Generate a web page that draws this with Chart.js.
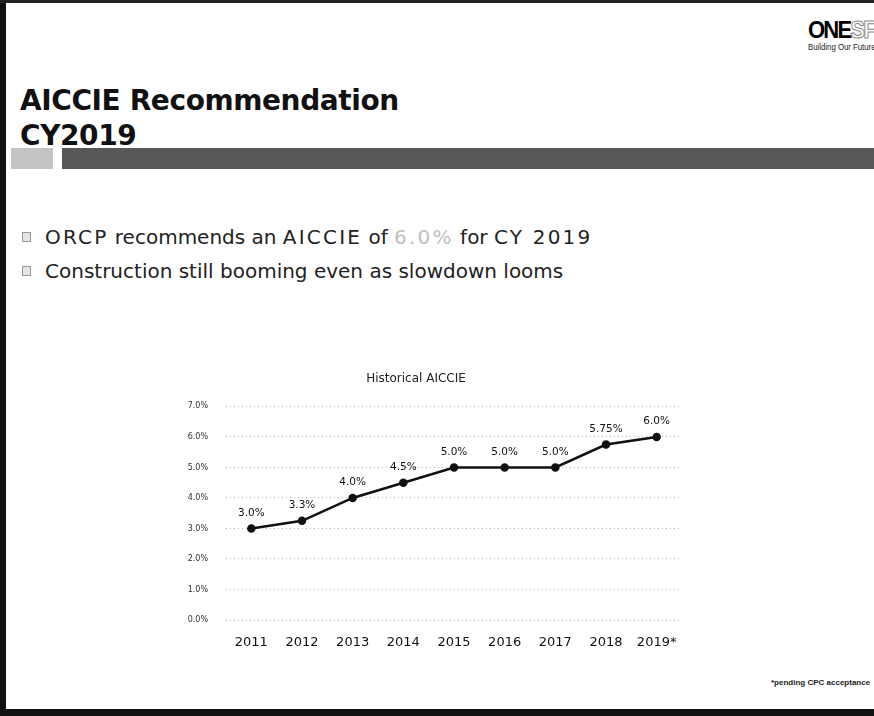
<!DOCTYPE html>
<html>
<head>
<meta charset="utf-8">
<script src="https://cdn.jsdelivr.net/npm/chart.js@4"></script>
<style>
  body { margin: 0; width: 874px; height: 716px; background: #fff; position: relative; overflow: hidden; font-family: 'DejaVu Sans', sans-serif; }
  .bar-left { position: absolute; left: 0; top: 0; width: 6px; height: 716px; background: #111; }
  .bar-top { position: absolute; left: 0; top: 0; width: 874px; height: 3px; background: #222; }
  .bar-bottom { position: absolute; left: 0; top: 709px; width: 874px; height: 7px; background: #111; }
  .title { position: absolute; left: 20px; top: 83px; font-size: 28px; font-weight: bold; line-height: 35px; color: #111; letter-spacing: -0.4px; }
  .logo { position: absolute; left: 808px; top: 18px; font-family: 'Liberation Sans', sans-serif; }
  .logo .big { font-size: 24px; font-weight: bold; letter-spacing: -2px; line-height: 23px; transform: scaleX(0.92); transform-origin: left; }
  .logo .big span { color: #fff; -webkit-text-stroke: 1px #888; }
  .logo .small { font-size: 9.5px; line-height: 11px; white-space: nowrap; color: #222; transform: scaleX(0.82); transform-origin: left; }
  .band-a { position: absolute; left: 11px; top: 148px; width: 42px; height: 21px; background: #c4c4c4; }
  .band-b { position: absolute; left: 62px; top: 148px; width: 812px; height: 21px; background: #585858; }
  .bullet { position: absolute; left: 22px; font-size: 20px; color: #222; white-space: nowrap; }
  .bullet i { display: inline-block; width: 7px; height: 8px; border: 1px solid #999; background: #e4e4e4; margin-right: 14px; vertical-align: 2px; }
  .bullet b { font-weight: normal; letter-spacing: 2.2px; }
  .bullet .hl { color: #c0c0c0; }
  .note { position: absolute; left: 771px; top: 678px; font-family: 'Liberation Sans', sans-serif; font-size: 8px; font-weight: bold; color: #222; white-space: nowrap; }
  #wrap { position: absolute; left: 150px; top: 362px; width: 560px; height: 292px; }
</style>
</head>
<body>
<div class="bar-left"></div>
<div class="bar-top"></div>
<div class="bar-bottom"></div>
<div class="title">AICCIE Recommendation<br>CY2019</div>
<div class="logo"><div class="big">ONE<span>SF</span></div><div class="small">Building Our Future</div></div>
<div class="band-a"></div>
<div class="band-b"></div>
<div class="bullet" style="top:225px"><i></i><b>ORCP</b> recommends an <b>AICCIE</b> of <b class="hl">6.0%</b> for <b>CY 2019</b></div>
<div class="bullet" style="top:259px"><i></i>Construction still booming even as slowdown looms</div>
<div id="wrap"><canvas id="aiccieChart"></canvas></div>
<div class="note">*pending CPC acceptance</div>
<script>
var years = ['2011', '2012', '2013', '2014', '2015', '2016', '2017', '2018', '2019*'];
var rates = [3.0, 3.25, 4.0, 4.5, 5.0, 5.0, 5.0, 5.75, 6.0];
var rateLabels = ['3.0%', '3.3%', '4.0%', '4.5%', '5.0%', '5.0%', '5.0%', '5.75%', '6.0%'];

// value text above each point
var pointText = {
	id: 'pointText',
	afterDatasetsDraw: function (chart) {
		var ctx = chart.ctx;
		var meta = chart.getDatasetMeta(0);
		ctx.save();
		ctx.font = '10.5px "DejaVu Sans"';
		ctx.fillStyle = '#111';
		ctx.textAlign = 'center';
		ctx.textBaseline = 'bottom';
		meta.data.forEach(function (pt, i) {
			ctx.fillText(rateLabels[i], pt.x, pt.y - 10);
		});
		ctx.restore();
	}
};

var ctx = document.getElementById('aiccieChart').getContext('2d');
var aiccieChart = new Chart(ctx, {
	type: 'line',
	data: {
		labels: years,
		datasets: [{
			data: rates,
			borderColor: '#111',
			borderWidth: 2.5,
			pointRadius: 3,
			pointBackgroundColor: '#111',
			pointBorderColor: '#111',
			tension: 0
		}]
	},
	plugins: [pointText],
	options: {
		responsive: true,
		maintainAspectRatio: false,
		animation: false,
		layout: { padding: { left: 0, right: 28, top: 0, bottom: 0 } },
		plugins: {
			legend: { display: false },
			tooltip: { enabled: false },
			title: {
				display: true,
				text: 'Historical AICCIE',
				color: '#222',
				font: { size: 12, family: 'DejaVu Sans', weight: 'normal' },
				padding: { top: 10, bottom: 20 }
			}
		},
		scales: {
			x: {
				offset: true,
				grid: { display: false },
				border: { display: false },
				afterFit: function (s) { s.height = 34; },
				ticks: { color: '#111', font: { size: 13, family: 'DejaVu Sans' }, padding: 7, maxRotation: 0 }
			},
			y: {
				min: 0,
				max: 7,
				border: { display: false, dash: [1, 3] },
				grid: { color: '#b4b4b4', lineWidth: 1, drawTicks: false },
				afterFit: function (s) { s.width = 76; },
				ticks: {
					stepSize: 1,
					padding: 18,
					color: '#333',
					font: { size: 8, family: 'DejaVu Sans' },
					callback: function (v) { return v.toFixed(1) + '%'; }
				}
			}
		}
	}
});
</script>
</body>
</html>
